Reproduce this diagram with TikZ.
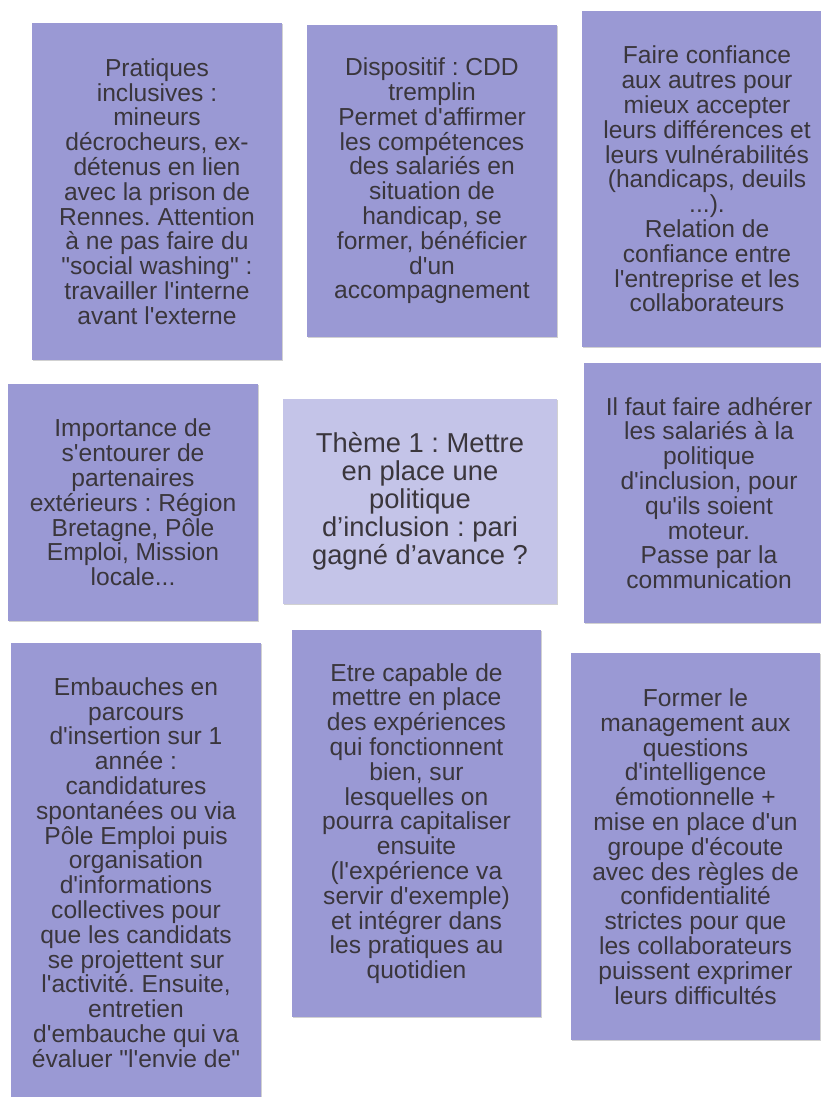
\documentclass[tikz,border=0pt]{standalone}
\usepackage{fontspec}
\newfontfamily\notefont{Liberation Sans}
\usetikzlibrary{shadows}
\frenchspacing
\newlength\px
\setlength\px{0.75pt}
\definecolor{notebg}{RGB}{154,153,212}
\definecolor{themebg}{RGB}{196,196,232}
\definecolor{notetext}{RGB}{58,54,60}
\tikzset{
  note/.style={rectangle, fill=notebg, align=center, inner sep=0pt,
    text=notetext, minimum width=250\px,
    font={\notefont\frenchspacing\fontsize{18.45pt}{18.6pt}\selectfont},
    drop shadow={shadow xshift=0.5pt, shadow yshift=-0.9pt, opacity=0.18, fill=black}},
  theme/.style={note, fill=themebg, minimum width=274\px,
    font={\notefont\frenchspacing\fontsize{20.5pt}{21pt}\selectfont}}
}
\begin{document}
\begin{tikzpicture}[x=0.75pt,y=-0.75pt]
\useasboundingbox (0,0) rectangle (821,1097);
\clip (0,0) rectangle (821,1097);
\fill[white] (0,0) rectangle (821,1097);

\node[note, minimum height=337\px] (A) at (157,191.5) {Pratiques\\inclusives :\\mineurs\\décrocheurs, ex-\\détenus en lien\\avec la prison de\\Rennes. Attention\\à ne pas faire du\\"social washing" :\\travailler l'interne\\avant l'externe};

\node[note, minimum height=312\px] (B) at (432,181) {Dispositif : CDD\\tremplin\\Permet d'affirmer\\les compétences\\des salariés en\\situation de\\handicap, se\\former, bénéficier\\d'un\\accompagnement};

\node[note, minimum height=336\px] (C) at (707,179) {Faire confiance\\aux autres pour\\mieux accepter\\leurs différences et\\leurs vulnérabilités\\(handicaps, deuils\\...).\\Relation de\\confiance entre\\l'entreprise et les\\collaborateurs};

\node[note, minimum height=237\px] (D) at (133,502.5) {Importance de\\s'entourer de\\partenaires\\extérieurs : Région\\Bretagne, Pôle\\Emploi, Mission\\locale...};

\node[theme, minimum height=205\px] (E) at (420,501.5) {Thème 1 : Mettre\\en place une\\politique\\d’inclusion : pari\\gagné d’avance ?};

\node[note, minimum height=260\px] (F) at (709,493) {Il faut faire adhérer\\les salariés à la\\politique\\d'inclusion, pour\\qu'ils soient\\moteur.\\Passe par la\\communication};

\node[note, minimum height=459\px] (G) at (136,872.5) {Embauches en\\parcours\\d'insertion sur 1\\année :\\candidatures\\spontanées ou via\\Pôle Emploi puis\\organisation\\d'informations\\collectives pour\\que les candidats\\se projettent sur\\l'activité. Ensuite,\\entretien\\d'embauche qui va\\évaluer "l'envie de"};

\node[note, minimum width=249\px, minimum height=387\px] (H) at (416.5,823.5) {Etre capable de\\mettre en place\\des expériences\\qui fonctionnent\\bien, sur\\lesquelles on\\pourra capitaliser\\ensuite\\(l'expérience va\\servir d'exemple)\\et intégrer dans\\les pratiques au\\quotidien};

\node[note, minimum width=249\px, minimum height=387\px] (I) at (695.5,846.5) {Former le\\management aux\\questions\\d'intelligence\\émotionnelle +\\mise en place d'un\\groupe d'écoute\\avec des règles de\\confidentialité\\strictes pour que\\les collaborateurs\\puissent exprimer\\leurs difficultés};
\end{tikzpicture}
\end{document}
